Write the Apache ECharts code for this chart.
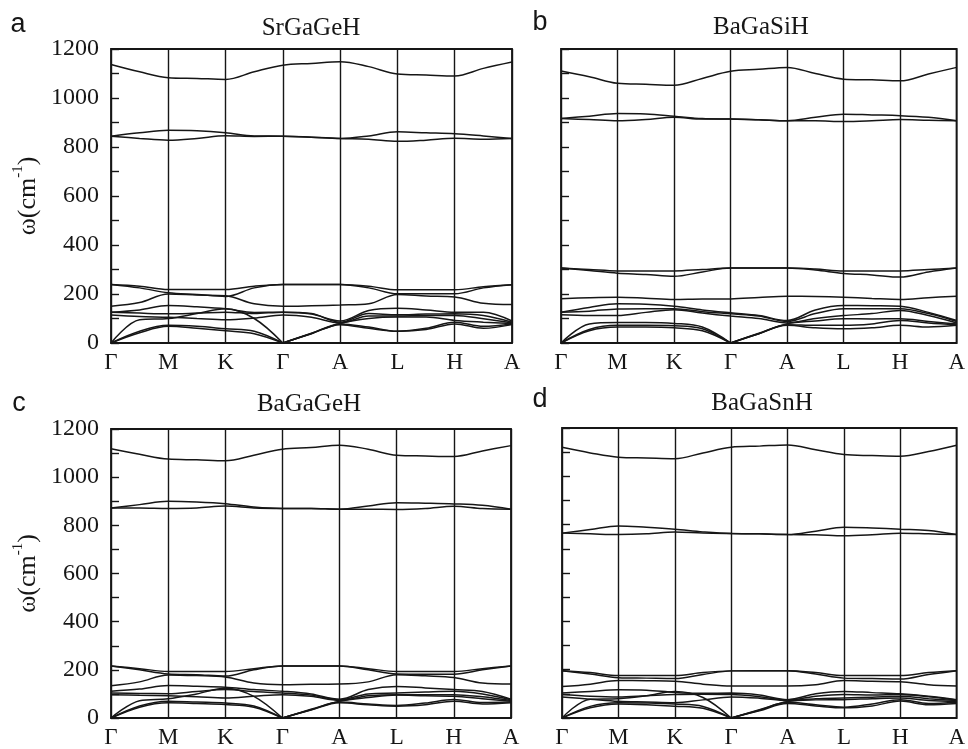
<!DOCTYPE html>
<html><head><meta charset="utf-8">
<script src="https://cdn.jsdelivr.net/npm/echarts@6/dist/echarts.min.js"></script>
<style>html,body{margin:0;padding:0;background:#fff}#c{width:968px;height:749px}</style>
</head><body><div id="c"></div><script>
// high-symmetry path labels and sampling grid (path coordinate)
const kLabels = ['Γ','M','K','Γ','A','L','H','A'];
const kGrid = [0,0.5,1,1.5,2,2.5,3,3.5,4,4.5,5,5.5,6,6.5,7];
const yMin = 0, yMax = 1200, yStep = 200;
const titles = ['SrGaGeH','BaGaSiH','BaGaGeH','BaGaSnH'];
const letters = ['a','b','c','d'];

// phonon bands (cm^-1) sampled on kGrid
const bandsSrGaGeH = [
  [0,42,68,60,50,38,0,38,75,60,48,55,78,60,75],
  [0,48,72,68,58,48,0,39,78,65,48,60,85,68,78],
  [0,95,100,120,140,100,0,40,80,100,106,106,92,85,80],
  [114,108,105,100,95,102,114,105,82,110,110,112,112,99,82],
  [126,122,119,122,126,120,126,120,85,120,115,118,119,112,85],
  [126,135,153,148,140,125,126,118,90,133,142,135,126,126,90],
  [150,165,200,196,193,160,150,152,155,160,198,192,188,162,157],
  [239,225,205,198,190,225,239,239,239,225,201,201,201,225,238],
  [239,232,218,218,218,232,239,239,239,232,217,217,217,230,238],
  [844,835,828,835,846,843,844,840,835,832,823,828,836,832,835],
  [844,858,868,866,858,845,844,840,835,845,862,858,854,845,835],
  [1137,1107,1083,1080,1076,1107,1134,1141,1148,1128,1098,1094,1090,1121,1147]
];
const bandsBaGaSiH = [
  [0,50,65,65,62,50,0,38,72,62,58,62,72,65,72],
  [0,55,72,72,70,58,0,38,75,72,72,78,92,82,75],
  [0,78,84,84,80,65,0,40,78,90,99,98,99,88,78],
  [115,112,112,125,136,122,110,100,82,100,112,120,133,112,82],
  [126,130,139,140,140,128,119,110,88,120,140,140,140,120,88],
  [126,145,160,158,150,135,123,112,92,135,153,152,150,125,92],
  [181,185,187,183,178,180,180,186,191,190,187,182,178,185,191],
  [306,296,285,280,272,290,306,306,306,298,284,278,269,290,306],
  [306,300,294,294,294,300,306,306,306,302,294,294,294,300,306],
  [916,912,907,912,921,914,914,911,907,907,904,907,912,909,907],
  [916,926,937,935,926,916,914,911,907,921,934,931,928,921,907],
  [1110,1087,1060,1056,1052,1080,1109,1117,1125,1100,1077,1074,1070,1098,1125]
];
const bandsBaGaGeH = [
  [0,45,63,60,56,45,0,33,63,55,49,55,70,58,63],
  [0,50,70,66,62,50,0,34,66,58,52,62,77,64,66],
  [0,72,80,100,124,90,0,36,70,85,95,92,90,80,70],
  [97,94,92,88,83,90,97,90,73,92,97,97,97,88,73],
  [104,102,101,110,118,110,104,95,76,100,104,108,111,100,76],
  [111,120,135,132,128,118,111,100,78,118,131,125,118,110,78],
  [134,150,179,176,170,145,138,140,141,150,180,175,168,145,141],
  [216,200,183,180,174,200,216,216,216,200,183,182,182,200,216],
  [216,205,193,193,193,205,216,216,216,205,193,193,193,205,216],
  [872,872,870,872,880,872,870,870,867,867,866,870,879,870,867],
  [872,886,900,897,890,876,870,870,867,880,894,892,889,883,867],
  [1118,1095,1075,1072,1068,1091,1116,1123,1133,1116,1091,1088,1086,1109,1131]
];
const bandsBaGaSnH = [
  [0,42,58,55,49,40,0,30,60,50,42,50,70,55,60],
  [0,48,63,62,58,48,0,32,65,55,45,58,76,60,65],
  [0,78,80,92,110,85,0,34,68,75,76,80,83,72,68],
  [87,78,69,66,63,75,87,82,72,80,83,86,90,80,72],
  [97,90,87,92,97,98,97,88,74,90,97,95,97,88,74],
  [103,110,117,115,106,102,103,95,76,100,110,105,100,90,76],
  [130,140,155,154,152,140,132,132,132,138,155,152,150,138,132],
  [196,182,167,165,163,180,195,196,196,182,165,163,161,180,196],
  [196,188,176,176,176,188,195,196,196,188,176,176,176,188,196],
  [765,762,759,762,770,765,763,762,759,758,754,758,765,762,759],
  [765,780,795,789,781,770,763,762,759,773,789,786,781,776,759],
  [1120,1097,1079,1076,1073,1097,1120,1125,1130,1110,1090,1086,1083,1103,1129]
];
const panels = [bandsSrGaGeH, bandsBaGaSiH, bandsBaGaGeH, bandsBaGaSnH];

// ---- layout ----
const gridPos = [
  {left:111, top:49, width:401, height:294},
  {left:561, top:49, width:401, height:294},
  {left:111, top:429, width:400, height:293},
  {left:562, top:428, width:400, height:294}
];
const titlePos = [[311,28],[761,27],[309,404],[762,403]];
const letterPos = [[18,25],[540,23],[19,404],[540,400]];
const INK = '#161616';
const serif = "'Liberation Serif', 'Times New Roman', serif";

const grid = [], xAxis = [], yAxis = [], series = [], graphic = [];
panels.forEach((bands, p) => {
  grid.push(Object.assign({show:true, borderColor:INK, borderWidth:1.8, backgroundColor:'transparent'}, gridPos[p]));
  xAxis.push({
    gridIndex:p, type:'value', min:0, max:kLabels.length-1, interval:1,
    axisLine:{show:false}, axisTick:{show:false},
    splitLine:{show:true, lineStyle:{color:INK, width:1.4}},
    axisLabel:{margin:8, fontFamily:serif, fontSize:23, color:INK,
      formatter:(v)=>kLabels[Math.round(v)] || ''}
  });
  const showLab = (p % 2 === 0);
  yAxis.push({
    gridIndex:p, type:'value', min:yMin, max:yMax, interval:yStep,
    name: showLab ? '{a|ω(cm}{s|-1}{a|)}' : '',
    nameLocation:'middle', nameRotate:90, nameGap:70,
    nameTextStyle:{fontFamily:serif, rich:{
      a:{fontFamily:serif, fontSize:26, color:INK, verticalAlign:'bottom', lineHeight:30},
      s:{fontFamily:serif, fontSize:15, color:INK, verticalAlign:'top', lineHeight:30}
    }},
    axisLine:{show:false},
    axisTick:{show:true, inside:true, length:8, lineStyle:{color:INK, width:1.4}},
    minorTick:{show:true, splitNumber:2, length:8, lineStyle:{color:INK, width:1.4}},
    splitLine:{show:false},
    axisLabel:{show:showLab, margin:12, fontFamily:serif, fontSize:24, color:INK,
      formatter:(v)=>String(v)}
  });
  bands.forEach((vals) => {
    // continuous smooth curve, broken only at acoustic cusps (zero frequency at Γ)
    const data = [];
    vals.forEach((v, i) => {
      data.push([kGrid[i], v]);
      if (v === 0 && i > 0 && i < vals.length-1) {
        data.push([kGrid[i], '-']);
        data.push([kGrid[i], v]);
      }
    });
    series.push({type:'line', xAxisIndex:p, yAxisIndex:p, data, showSymbol:false, symbol:'none',
      smooth:0.35, connectNulls:false, silent:true,
      lineStyle:{color:INK, width:1.5}});
  });
  graphic.push({type:'text', x:titlePos[p][0], y:titlePos[p][1],
    style:{text:titles[p], font:"25px 'Liberation Serif', 'Times New Roman', serif", fill:INK, textAlign:'center', textVerticalAlign:'middle'}});
  graphic.push({type:'text', x:letterPos[p][0], y:letterPos[p][1],
    style:{text:letters[p], font:"27px 'Liberation Sans', Arial, sans-serif", fill:INK, textAlign:'center', textVerticalAlign:'middle'}});
});

const chart = echarts.init(document.getElementById('c'), null, {renderer:'canvas', width:968, height:749});
chart.setOption({animation:false, backgroundColor:'#fff', textStyle:{fontFamily:serif},
  grid, xAxis, yAxis, series, graphic});
</script></body></html>
